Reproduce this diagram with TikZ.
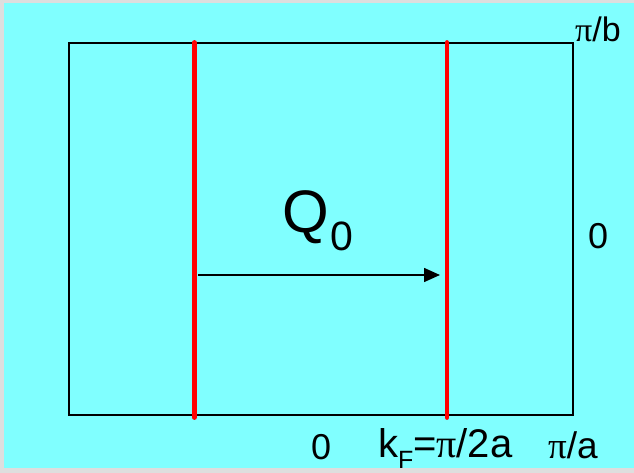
\documentclass[tikz,border=0pt]{standalone}
\usepackage{fontspec}
\setmainfont{Liberation Sans}
\newfontfamily\pifont{Liberation Serif}
\usetikzlibrary{arrows.meta}
\definecolor{bgcyan}{HTML}{80FFFF}
\definecolor{framegray}{HTML}{DEDEDE}
\newcommand{\mypi}{{\pifont π}}
\begin{document}
\begin{tikzpicture}[x=1pt,y=-1pt,
  lbl/.style={inner sep=0pt,anchor=base west,text=black},
  zoneline/.style={line width=2pt,draw=black},
  fermiline/.style={line width=4.8pt,draw=red,line cap=round},
  qarrow/.style={line width=1.6pt,-{Triangle[length=16pt,width=14pt]}}]
\useasboundingbox (0,0) rectangle (634,473);
\fill[framegray] (0,0) rectangle (634,473);
\fill[bgcyan] (4,3) rectangle (634,468);
% Brillouin zone rectangle
\draw[zoneline] (69,43) rectangle (573,415);
% Fermi lines
\draw[fermiline] (194.3,42.5) -- (194.3,417.5);
\draw[fermiline] (447,42.5) -- (447,417.5);
% nesting vector
\coordinate (qs) at (198,275);
\coordinate (qe) at (440,275);
\draw[qarrow] (qs) -- (qe);
% labels
\node[lbl,font=\fontsize{60}{60}\selectfont] (Q) at (282,233) {Q};
\node[lbl,font=\fontsize{41}{41}\selectfont] (Qsub) at (330,250) {0};
\node[lbl,font=\fontsize{34}{34}\selectfont] (pib) at (575,42) {\mypi/b};
\node[lbl,font=\fontsize{36}{36}\selectfont] (rzero) at (588,248) {0};
\node[lbl,font=\fontsize{36}{36}\selectfont] (bzero) at (311,459) {0};
\node[lbl,font=\fontsize{40}{40}\selectfont] (k) at (378,457) {k};
\node[lbl,font=\fontsize{25}{25}\selectfont] (F) at (398,468) {F};
\node[lbl,font=\fontsize{40}{40}\selectfont] (eq) at (413,457) {=\mypi/2a};
\node[lbl,font=\fontsize{37}{37}\selectfont] (pia) at (548,458) {\mypi/a};
\end{tikzpicture}
\end{document}
